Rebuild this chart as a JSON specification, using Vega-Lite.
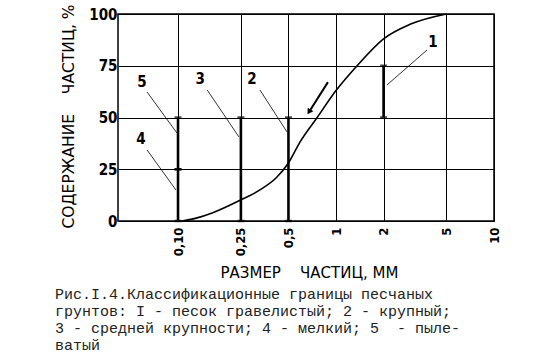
{
  "$schema": "https://vega.github.io/schema/vega-lite/v6.json",
  "width": 376,
  "height": 207,
  "autosize": "none",
  "padding": {"left": 118, "top": 14, "right": 52, "bottom": 142},
  "background": "white",
  "config": {"view": {"stroke": "black", "strokeWidth": 1.5}},
  "title": {
    "text": ["Рис.I.4.Классификационные границы песчаных", "грунтов: I - песок гравелистый; 2 - крупный;", "3 - средней крупности; 4 - мелкий; 5\u00a0 - пыле-", "ватый"],
    "orient": "bottom",
    "anchor": "start",
    "frame": "group",
    "dx": -63,
    "offset": 7,
    "font": "Liberation Mono",
    "fontSize": 15,
    "fontWeight": "normal",
    "lineHeight": 17,
    "color": "#222",
    "baseline": "top"
  },
  "datasets": {
    "curve": [
      {"d": 0.106, "p": 0},
      {"d": 0.132, "p": 1.5},
      {"d": 0.166, "p": 4},
      {"d": 0.247, "p": 10},
      {"d": 0.33, "p": 15},
      {"d": 0.42, "p": 21},
      {"d": 0.5, "p": 28},
      {"d": 0.59, "p": 38},
      {"d": 0.76, "p": 50},
      {"d": 1.0, "p": 63},
      {"d": 1.36, "p": 75},
      {"d": 2.0, "p": 88},
      {"d": 2.94, "p": 95},
      {"d": 5.0, "p": 100}
    ],
    "bars": [
      {"k": "1", "d": 2, "lo": 50, "hi": 75},
      {"k": "2", "d": 0.5, "lo": 0, "hi": 50},
      {"k": "3", "d": 0.25, "lo": 0, "hi": 50},
      {"k": "4", "d": 0.1, "lo": 0, "hi": 25},
      {"k": "5", "d": 0.1, "lo": 25, "hi": 50}
    ],
    "leaders": [
      {"k": "1", "x1": 3.77, "y1": 82.6, "x2": 2.1, "y2": 65.7, "lx": 4.11, "ly": 86.5},
      {"k": "2", "x1": 0.33, "y1": 63.3, "x2": 0.49, "y2": 43, "lx": 0.294, "ly": 68.6},
      {"k": "3", "x1": 0.153, "y1": 63.3, "x2": 0.243, "y2": 40.6, "lx": 0.138, "ly": 68.6},
      {"k": "5", "x1": 0.0637, "y1": 62.3, "x2": 0.0985, "y2": 42.5, "lx": 0.0592, "ly": 67.1},
      {"k": "4", "x1": 0.0637, "y1": 34.3, "x2": 0.097, "y2": 15, "lx": 0.0583, "ly": 39.6}
    ],
    "arrow": [
      {"x1": 0.889, "y1": 67.1, "x2": 0.675, "y2": 52.7}
    ]
  },
  "layer": [
    {
      "data": {"name": "curve"},
      "mark": {"type": "line", "interpolate": "monotone", "color": "black", "strokeWidth": 1.6},
      "encoding": {
        "x": {
          "field": "d", "type": "quantitative",
          "scale": {"type": "log", "domain": [0.0417, 10], "nice": false},
          "axis": {
            "values": [0.1, 0.25, 0.5, 1, 2, 5, 10],
            "labelExpr": "datum.value == 0.1 ? '0,10' : datum.value == 0.25 ? '0,25' : datum.value == 0.5 ? '0,5' : datum.label",
            "labelAngle": -90,
            "labelAlign": "right",
            "labelBaseline": "middle",
            "labelPadding": 6,
            "labelFont": "Liberation Sans Narrow, DejaVu Sans Condensed, Liberation Sans",
            "labelFontWeight": "bold",
            "labelFontSize": 13,
            "labelColor": "black",
            "labelFlush": false,
            "labelOverlap": false,
            "ticks": false,
            "domain": false,
            "grid": true,
            "gridColor": "black",
            "gridOpacity": 1,
            "gridWidth": 1,
            "title": "РАЗМЕР\u00a0\u00a0\u00a0\u00a0ЧАСТИЦ,\u00a0ММ",
            "titleFont": "DejaVu Sans",
            "titleFontWeight": "normal",
            "titleFontSize": 15,
            "titleColor": "black",
            "titleX": 191,
            "titleY": 51,
            "titleBaseline": "middle",
            "titleAlign": "center"
          }
        },
        "y": {
          "field": "p", "type": "quantitative",
          "scale": {"domain": [0, 100], "nice": false},
          "axis": {
            "values": [0, 25, 50, 75, 100],
            "labelFont": "Liberation Sans Narrow, DejaVu Sans Condensed, Liberation Sans",
            "labelFontWeight": "bold",
            "labelFontSize": 15,
            "labelColor": "black",
            "labelPadding": 1,
            "labelFlush": false,
            "ticks": false,
            "domain": false,
            "grid": true,
            "gridColor": "black",
            "gridOpacity": 1,
            "gridWidth": 1,
            "title": "СОДЕРЖАНИЕ\u00a0\u00a0\u00a0\u00a0ЧАСТИЦ,\u00a0%",
            "titleFont": "DejaVu Sans",
            "titleFontWeight": "normal",
            "titleFontSize": 15.5,
            "titleColor": "black",
            "titleAngle": -90,
            "titleX": -50,
            "titleY": 102,
            "titleAlign": "center",
            "titleBaseline": "middle"
          }
        }
      }
    },
    {
      "data": {"name": "bars"},
      "mark": {"type": "rule", "color": "black", "strokeWidth": 2.6},
      "encoding": {
        "x": {"field": "d", "type": "quantitative"},
        "y": {"field": "lo", "type": "quantitative"},
        "y2": {"field": "hi"}
      }
    },
    {
      "data": {"name": "bars"},
      "mark": {"type": "tick", "orient": "horizontal", "color": "black", "size": 7, "thickness": 2.5},
      "encoding": {
        "x": {"field": "d", "type": "quantitative"},
        "y": {"field": "lo", "type": "quantitative"}
      }
    },
    {
      "data": {"name": "bars"},
      "mark": {"type": "tick", "orient": "horizontal", "color": "black", "size": 7, "thickness": 2.5},
      "encoding": {
        "x": {"field": "d", "type": "quantitative"},
        "y": {"field": "hi", "type": "quantitative"}
      }
    },
    {
      "data": {"name": "leaders"},
      "mark": {"type": "rule", "color": "black", "strokeWidth": 0.8},
      "encoding": {
        "x": {"field": "x1", "type": "quantitative"},
        "y": {"field": "y1", "type": "quantitative"},
        "x2": {"field": "x2"},
        "y2": {"field": "y2"}
      }
    },
    {
      "data": {"name": "leaders"},
      "mark": {"type": "text", "color": "black", "font": "Liberation Sans Narrow, DejaVu Sans Condensed, Liberation Sans", "fontWeight": "bold", "fontSize": 15, "align": "center", "baseline": "middle"},
      "encoding": {
        "x": {"field": "lx", "type": "quantitative"},
        "y": {"field": "ly", "type": "quantitative"},
        "text": {"field": "k"}
      }
    },
    {
      "data": {"name": "arrow"},
      "mark": {"type": "rule", "color": "black", "strokeWidth": 2},
      "encoding": {
        "x": {"field": "x1", "type": "quantitative"},
        "y": {"field": "y1", "type": "quantitative"},
        "x2": {"field": "x2"},
        "y2": {"field": "y2"}
      }
    },
    {
      "data": {"name": "arrow"},
      "mark": {"type": "point", "shape": "triangle-up", "filled": true, "color": "black", "opacity": 1, "size": 45, "angle": 212},
      "encoding": {
        "x": {"field": "x2", "type": "quantitative"},
        "y": {"field": "y2", "type": "quantitative"}
      }
    }
  ]
}
